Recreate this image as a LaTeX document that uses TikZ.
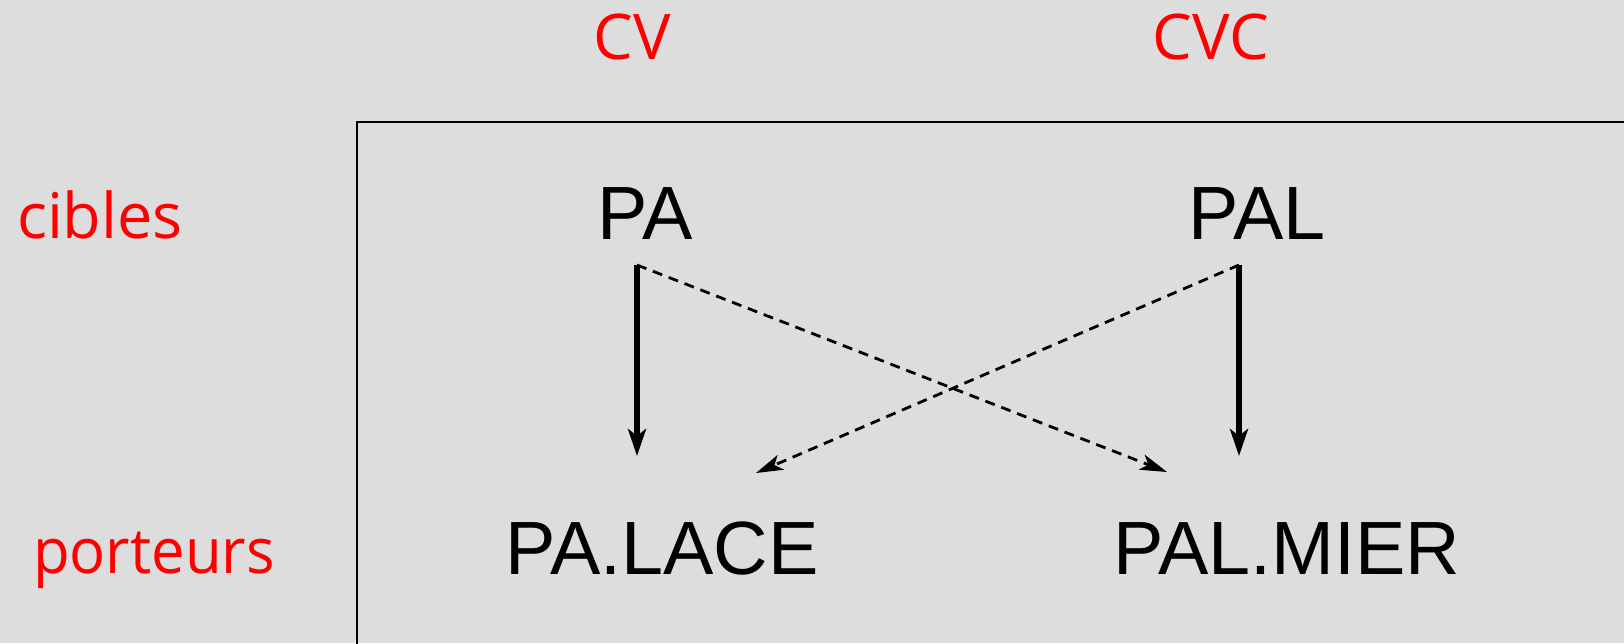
\documentclass[tikz,border=0pt]{standalone}
\usepackage{fontspec}
\setmainfont{Liberation Sans}
\newfontfamily\redfont{Open Sans}
\usetikzlibrary{arrows.meta}
\definecolor{bgc}{HTML}{DDDDDD}
\definecolor{lab}{HTML}{FF0000}
\tikzset{
  redlab/.style={text=lab, font=\redfont\fontsize{63}{70}\selectfont, anchor=base, inner sep=0pt},
  word/.style={text=black, font=\fontsize{75.5}{80}\selectfont, anchor=base, inner sep=0pt},
  solidarrow/.style={line width=5.5pt, -{Stealth[length=27pt, width=18pt, inset=7pt]}},
  dasharrow/.style={line width=2.8pt, dash pattern=on 10pt off 7pt, -{Stealth[length=27pt, width=16pt, inset=7pt]}},
  frameline/.style={line width=2.5pt}
}
\begin{document}
\begin{tikzpicture}[x=1pt,y=-1pt]
\useasboundingbox (0,0) rectangle (1624,643);
\fill[bgc] (0,0) rectangle (1624,643);
% frame
\coordinate (fb) at (357,645);
\coordinate (fc) at (357,122);
\coordinate (fr) at (1626,122);
\draw[frameline] (fb) -- (fc) -- (fr);
% red labels
\node[redlab] (cv) at (632,59) {CV};
\node[redlab] (cvc) at (1211,59) {CVC};
\node[redlab] (cibles) at (100,238) {cibles};
\node[redlab, xscale=0.95] (porteurs) at (154,573) {porteurs};
% words
\node[word] (pa) at (645,239) {PA};
\node[word] (pal) at (1257,239) {PAL};
\node[word] (palace) at (662,574) {PA.LACE};
\node[word] (palmier) at (1287,574) {PAL.MIER};
% arrow endpoints
\coordinate (paS) at (637,265);
\coordinate (palS) at (1239,265);
\coordinate (palaceT) at (637,456);
\coordinate (palaceD) at (756,473);
\coordinate (palmierT) at (1239,456);
\coordinate (palmierD) at (1167,472);
% arrows
\draw[solidarrow] (paS) -- (palaceT);
\draw[solidarrow] (palS) -- (palmierT);
\draw[dasharrow] (paS) -- (palmierD);
\draw[dasharrow] (palS) -- (palaceD);
\end{tikzpicture}
\end{document}
